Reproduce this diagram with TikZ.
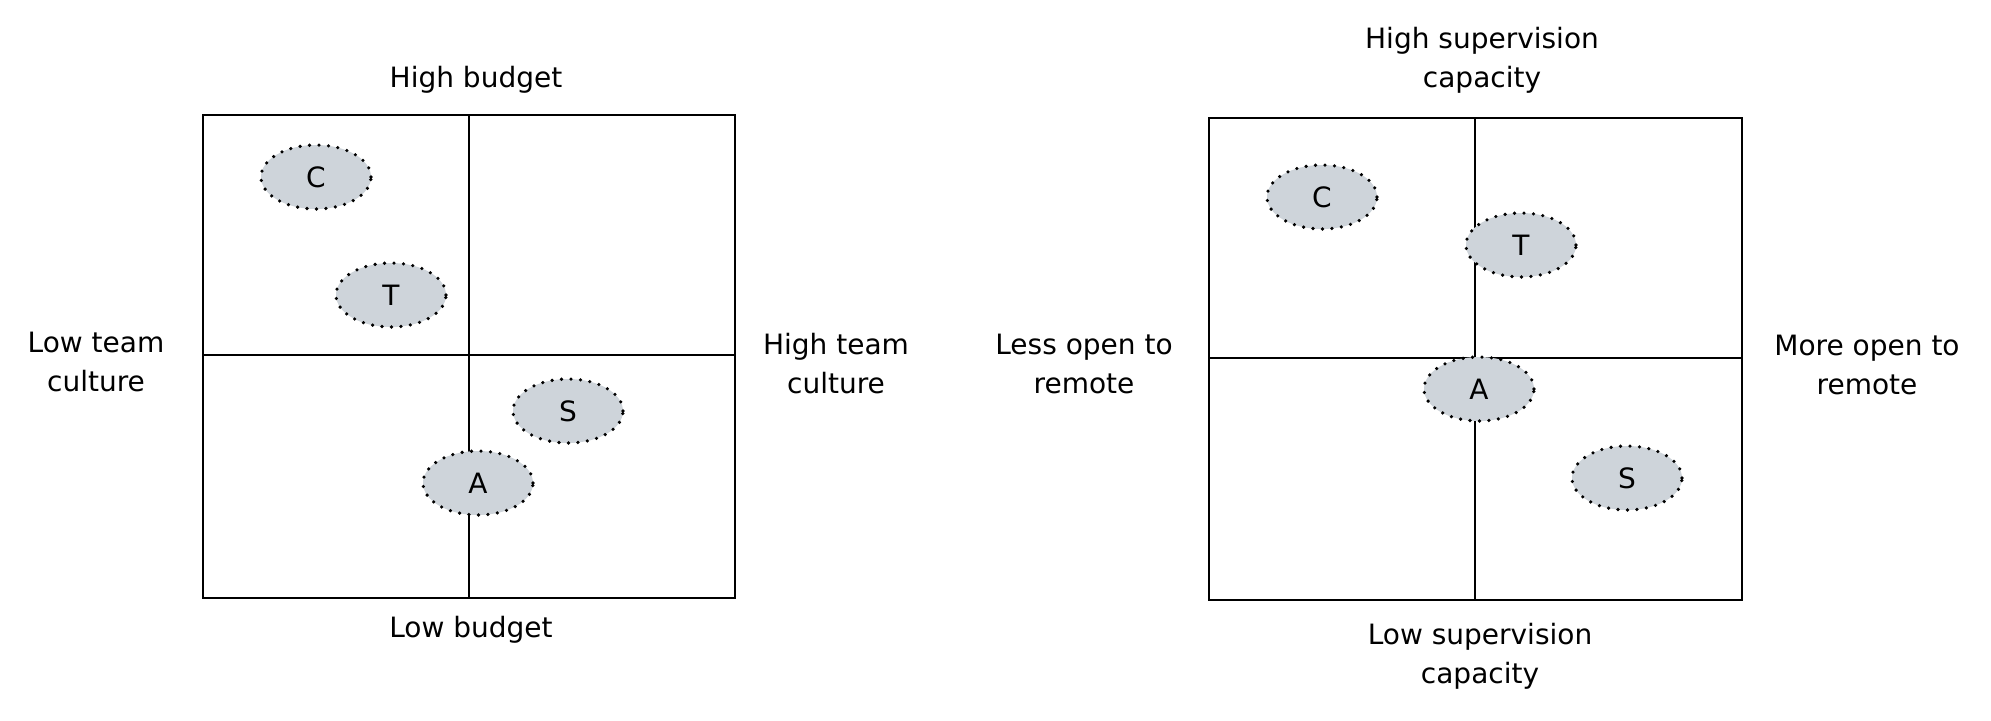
\documentclass[tikz,border=0pt]{standalone}
\usepackage{fontspec}
\setmainfont{DejaVu Sans}
\usetikzlibrary{shapes.geometric}
\definecolor{dotfill}{HTML}{CED4DA}
\tikzset{
  quad/.style={line width=2.8pt, draw=black},
  item/.style={ellipse, fill=dotfill, draw=black, line width=3.6pt, line cap=round,
    dash pattern=on 0pt off 9.5pt, minimum width=110pt, minimum height=64pt, inner sep=0pt,
    font=\fontsize{28}{28}\selectfont},
  lab/.style={align=center, font=\fontsize{28}{39}\selectfont, inner sep=0pt}
}
\begin{document}
\begin{tikzpicture}[x=1pt,y=-1pt]
\useasboundingbox[fill=white] (0,0) rectangle (1991,720);
% ---------- left matrix ----------
\coordinate (L-tl) at (203,115);
\coordinate (L-br) at (735,598);
\coordinate (L-t) at (469,115);
\coordinate (L-b) at (469,598);
\coordinate (L-l) at (203,355);
\coordinate (L-r) at (735,355);
\draw[quad] (L-tl) rectangle (L-br);
\draw[quad] (L-t) -- (L-b);
\draw[quad] (L-l) -- (L-r);
\node[item] (LC) at (316,177) {C};
\node[item] (LT) at (391,295) {T};
\node[item] (LS) at (568,411) {S};
\node[item] (LA) at (478,483) {A};
\node[lab] (Ltop) at (476,80) {High budget};
\node[lab] (Lbot) at (471,630) {Low budget};
\node[lab] (Lleft) at (96,362) {Low team\\culture};
\node[lab] (Lright) at (836,364) {High team\\culture};
% ---------- right matrix ----------
\coordinate (R-tl) at (1209,118);
\coordinate (R-br) at (1742,600);
\coordinate (R-t) at (1475,118);
\coordinate (R-b) at (1475,600);
\coordinate (R-l) at (1209,358);
\coordinate (R-r) at (1742,358);
\draw[quad] (R-tl) rectangle (R-br);
\draw[quad] (R-t) -- (R-b);
\draw[quad] (R-l) -- (R-r);
\node[item] (RC) at (1322,197) {C};
\node[item] (RT) at (1521,245) {T};
\node[item] (RA) at (1479,389) {A};
\node[item] (RS) at (1627,478) {S};
\node[lab] (Rtop) at (1482,60) {High supervision\\capacity};
\node[lab] (Rbot) at (1480,656) {Low supervision\\capacity};
\node[lab] (Rleft) at (1084,364) {Less open to\\remote};
\node[lab] (Rright) at (1867,365) {More open to\\remote};
\end{tikzpicture}
\end{document}
